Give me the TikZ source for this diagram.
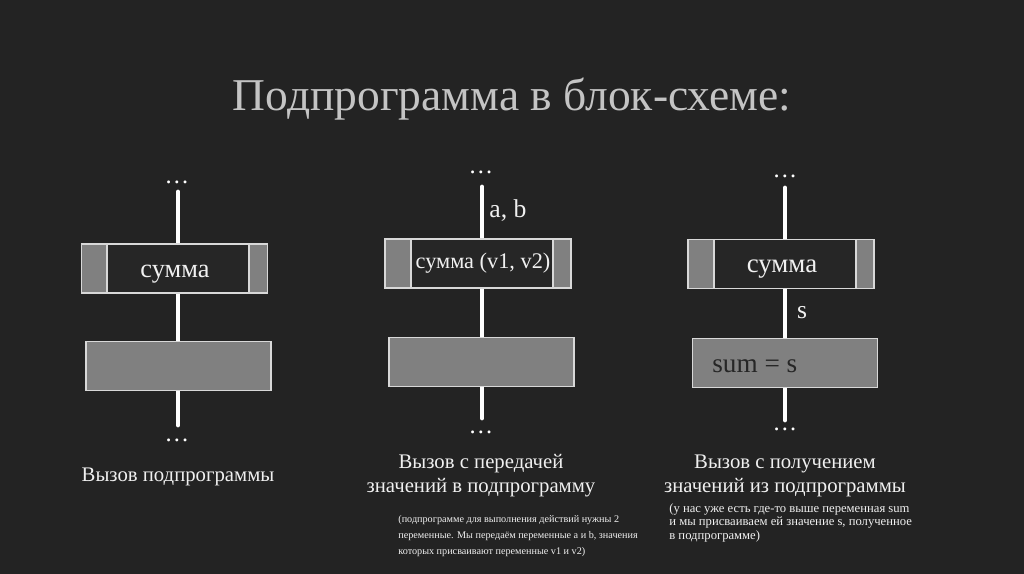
\documentclass[tikz,border=0pt]{standalone}
\usepackage{fontspec}
\setmainfont{Liberation Serif}
\definecolor{slidebg}{HTML}{232323}
\definecolor{boxgray}{HTML}{808080}
\definecolor{boxline}{HTML}{D8D8D8}
\definecolor{innerbg}{HTML}{262626}
\definecolor{titlegray}{HTML}{C4C4C4}
\definecolor{textwhite}{HTML}{F0F0F0}

\begin{document}
\begin{tikzpicture}[x=0.02cm,y=-0.02cm,
  flowline/.style={line width=2.8pt,line cap=round,draw=white},
  dotsmark/.style={text=white,font=\fontsize{14}{14}\selectfont,inner sep=0pt},
  callbox/.style={draw=boxline,fill=boxgray,line width=0.8pt,minimum width=3.72cm,minimum height=0.98cm,inner sep=0pt},
  namebox/.style={draw=boxline,fill=innerbg,line width=0.8pt,minimum width=2.84cm,minimum height=0.98cm,inner sep=0pt},
  actbox/.style={draw=boxline,fill=boxgray,line width=0.8pt,minimum width=3.7cm,minimum height=0.97cm,inner sep=0pt},
  nametext/.style={text=textwhite,inner sep=0pt,anchor=base},
  caption/.style={text=textwhite,align=center,font=\fontsize{11.8}{13.7}\selectfont,inner sep=0pt},
  note/.style={text=textwhite,align=left,font=\fontsize{5.8}{9}\selectfont,inner sep=0pt,anchor=north west},
  varlabel/.style={text=textwhite,font=\fontsize{14.6}{14.6}\selectfont,inner sep=0pt,anchor=base}]
  \fill[slidebg] (0,0) rectangle (1024,574);

  % title
  \node[text=titlegray,font=\fontsize{25.9}{26}\selectfont,inner sep=0pt,anchor=base] (title) at (512,111) {Подпрограмма в блок-схеме:};

  % first column: plain call
  \node[dotsmark] (topa) at (177,182) {…};
  \coordinate (starta) at (178,192);
  \coordinate (enda) at (178,425);
  \draw[flowline] (starta) -- (enda);
  \node[callbox] (calla) at (174.5,268.5) {};
  \node[namebox] (namea) at (178,268.5) {};
  \node[nametext,font=\fontsize{15}{15}\selectfont] (texta) at (175,277) {сумма};
  \node[actbox] (acta) at (178.5,366) {};
  \node[dotsmark] (bota) at (177,440) {…};
  \node[caption] (capa) at (178,477) {Вызов подпрограммы};

  % second column: passing values in
  \node[dotsmark] (topb) at (481,172) {…};
  \coordinate (startb) at (482,187);
  \coordinate (endb) at (482,418);
  \draw[flowline] (startb) -- (endb);
  \node[varlabel] (argsb) at (508,217) {a, b};
  \node[callbox] (callb) at (478,263.5) {};
  \node[namebox] (nameb) at (482,263.5) {};
  \node[nametext,font=\fontsize{12.7}{12.7}\selectfont] (textb) at (483,269) {сумма (v1, v2)};
  \node[actbox] (actb) at (481.5,362) {};
  \node[dotsmark] (botb) at (481,432) {…};
  \node[caption] (capb) at (481,476) {Вызов с передачей\\значений в подпрограмму};
  \node[note] (noteb) at (398,515) {(подпрограмме для выполнения действий нужны 2\\переменные. Мы передаём переменные a и b, значения\\которых присваивают переменные v1 и v2)};

  % third column: getting a value back
  \node[dotsmark] (topc) at (785,176) {…};
  \coordinate (startc) at (785,188);
  \coordinate (endc) at (785,420);
  \draw[flowline] (startc) -- (endc);
  \node[callbox] (callc) at (781,264) {};
  \node[namebox] (namec) at (785,264) {};
  \node[nametext,font=\fontsize{15.3}{15.3}\selectfont] (textc) at (782,273) {сумма};
  \node[varlabel] (resc) at (802,318) {s};
  \node[actbox] (actc) at (785,363) {};
  \node[varlabel,anchor=base west,text=black!85,font=\fontsize{15.5}{15.5}\selectfont] (assignc) at (712,372) {sum = s};
  \node[dotsmark] (botc) at (785,429) {…};
  \node[caption] (capc) at (785,476) {Вызов с получением\\значений из подпрограммы};
  \node[note,font=\fontsize{7.2}{7.8}\selectfont] (notec) at (669,503) {(у нас уже есть где-то выше переменная sum\\и мы присваиваем ей значение s, полученное\\в подпрограмме)};
\end{tikzpicture}
\end{document}
